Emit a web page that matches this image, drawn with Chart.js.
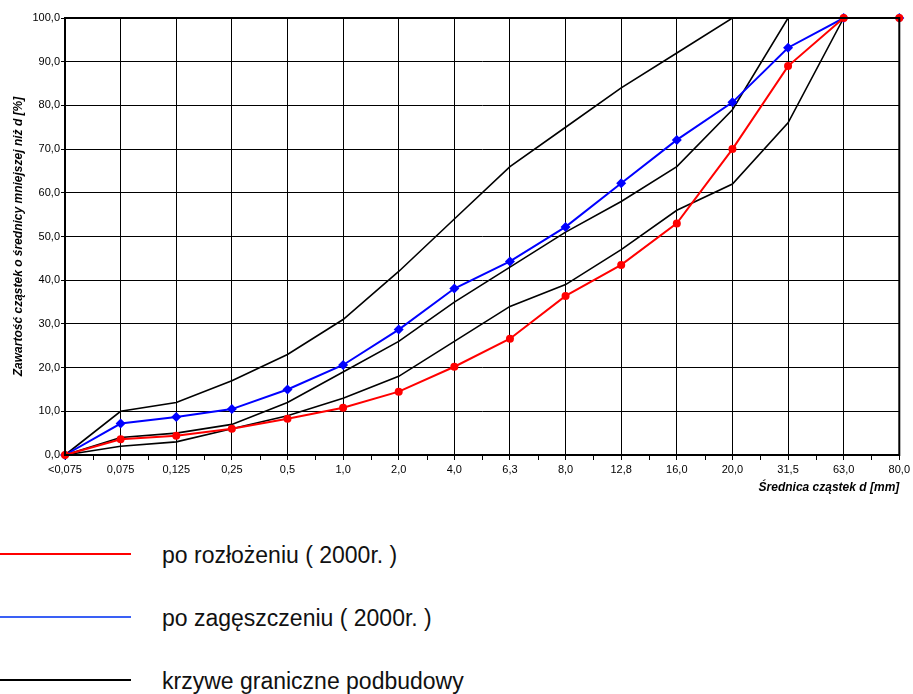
<!DOCTYPE html>
<html lang="pl">
<head>
<meta charset="utf-8">
<title>Krzywe uziarnienia</title>
<script src="https://cdn.jsdelivr.net/npm/chart.js@4/dist/chart.umd.min.js"></script>
<style>
  html, body { margin: 0; padding: 0; background: #fff; }
  body { width: 913px; height: 694px; position: relative; overflow: hidden; font-family: "Liberation Sans", Arial, sans-serif; }
  #wrap { position: absolute; left: 0; top: 0; width: 913px; height: 500px; }
  .leg { position: absolute; left: 0; height: 20px; width: 700px; }
  .leg .ln { position: absolute; left: 0; top: 9px; width: 131px; height: 1.5px; }
  .leg .tx { position: absolute; left: 162px; top: -2px; font-size: 23px; color: #111; white-space: nowrap; line-height: 26px; }
</style>
</head>
<body>
<div id="wrap"><canvas id="c" width="913" height="500"></canvas></div>

<div class="leg" style="top:544px"><div class="ln" style="background:#ff0000"></div><div class="tx">po rozłożeniu ( 2000r. )</div></div>
<div class="leg" style="top:607px"><div class="ln" style="background:#3a60f5"></div><div class="tx">po zagęszczeniu ( 2000r. )</div></div>
<div class="leg" style="top:670px"><div class="ln" style="background:#000"></div><div class="tx">krzywe graniczne podbudowy</div></div>

<script>
// Sieve sizes d [mm]
const categories = ['<0,075', '0,075', '0,125', '0,25', '0,5', '1,0', '2,0', '4,0', '6,3', '8,0', '12,8', '16,0', '20,0', '31,5', '63,0', '80,0'];

// Passing content [%]
const poRozlozeniu   = [0, 3.6, 4.4, 6.0, 8.3, 10.8, 14.5, 20.2, 26.6, 36.4, 43.5, 53.0, 70.0, 89.0, 100, 100];
const poZageszczeniu = [0, 7.2, 8.7, 10.5, 15.0, 20.6, 28.7, 38.1, 44.3, 52.2, 62.2, 72.1, 80.7, 93.2, 100, 100];

// Grading envelope of the base course
const krzywaGorna    = [0, 10, 12, 17, 23, 31, 42, 54, 66, 75, 84, 92, 100, 100, 100, 100];
const krzywaSrodkowa = [0, 4, 5, 7, 12, 19, 26, 35, 43, 51, 58, 66, 79, 100, 100, 100];
const krzywaDolna    = [0, 2, 3, 6, 9, 13, 18, 26, 34, 39, 47, 56, 62, 76, 100, 100];

const yTicks = [0, 10, 20, 30, 40, 50, 60, 70, 80, 90, 100];

const fmt = v => v.toFixed(1).replace('.', ',');

// Frame around the plot area and minor ticks between sieve sizes
const frame = {
  id: 'frame',
  afterDraw(chart) {
    const { ctx, chartArea: a, scales: { x } } = chart;
    ctx.save();
    ctx.strokeStyle = '#000';
    ctx.lineWidth = 1;
    ctx.beginPath();
    for (let i = 0; i < categories.length - 1; i++) {
      const px = Math.round(x.getPixelForValue(i + 0.5)) + 0.5;
      ctx.moveTo(px, a.bottom);
      ctx.lineTo(px, a.bottom + 5);
    }
    ctx.stroke();
    ctx.lineWidth = 2;
    ctx.strokeRect(a.left, a.top, a.right - a.left, a.bottom - a.top);
    ctx.restore();
  }
};

const tickFont = { family: '"Liberation Sans", Arial, sans-serif', size: 11 };
const titleFont = { family: '"Liberation Sans", Arial, sans-serif', size: 12, style: 'italic', weight: 'bold' };

const boundary = (data) => ({
  data,
  borderColor: '#000',
  borderWidth: 1.6,
  pointRadius: 0,
  pointHoverRadius: 0,
  tension: 0,
  clip: false
});

new Chart(document.getElementById('c'), {
  type: 'line',
  data: {
    labels: categories,
    datasets: [
      {
        label: 'po rozłożeniu ( 2000r. )',
        data: poRozlozeniu,
        borderColor: '#ff0000',
        backgroundColor: '#ff0000',
        borderWidth: 2,
        pointRadius: 4,
        pointBorderWidth: 0,
        pointBackgroundColor: '#ff0000',
        tension: 0,
        clip: false
      },
      {
        label: 'po zagęszczeniu ( 2000r. )',
        data: poZageszczeniu,
        borderColor: '#0000ff',
        backgroundColor: '#0000ff',
        borderWidth: 2,
        pointStyle: 'rectRot',
        pointRadius: 5,
        pointBorderWidth: 0,
        pointBackgroundColor: '#0000ff',
        tension: 0,
        clip: false
      },
      Object.assign({ label: 'krzywe graniczne podbudowy' }, boundary(krzywaGorna)),
      Object.assign({ label: 'krzywe graniczne podbudowy ' }, boundary(krzywaSrodkowa)),
      Object.assign({ label: 'krzywe graniczne podbudowy  ' }, boundary(krzywaDolna))
    ]
  },
  options: {
    responsive: false,
    animation: false,
    events: [],
    layout: { padding: { top: 18, right: 12, left: 0, bottom: 0 } },
    plugins: { legend: { display: false }, tooltip: { enabled: false } },
    scales: {
      x: {
        type: 'category',
        offset: false,
        afterFit(s) { s.height = 45; },
        grid: { color: '#000', lineWidth: 1, tickLength: 5, tickColor: '#000', drawOnChartArea: true },
        border: { display: true, color: '#000', width: 2 },
        ticks: { color: '#000', font: tickFont, padding: 3, maxRotation: 0, autoSkip: false },
        title: {
          display: true,
          text: 'Średnica cząstek d [mm]',
          align: 'end',
          color: '#000',
          font: titleFont,
          padding: { top: 0, bottom: 5 }
        }
      },
      y: {
        min: 0,
        max: 100,
        afterFit(s) { s.width = 65; },
        afterBuildTicks(s) { s.ticks = yTicks.map(v => ({ value: v })); },
        grid: { color: '#000', lineWidth: 1, tickLength: 4, tickColor: '#000' },
        border: { display: true, color: '#000', width: 2 },
        ticks: { color: '#000', font: tickFont, padding: 1, callback: v => fmt(v) },
        title: {
          display: true,
          text: 'Zawartość cząstek o średnicy mniejszej niż d [%]',
          color: '#000',
          font: titleFont,
          padding: { top: 11, bottom: 0 }
        }
      }
    }
  },
  plugins: [frame]
});
</script>
</body>
</html>
